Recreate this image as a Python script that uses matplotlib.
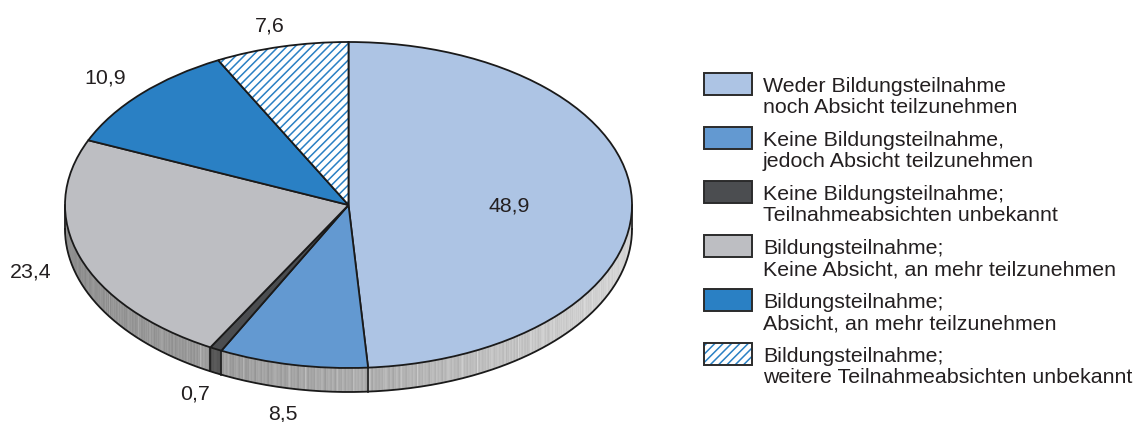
import numpy as np
import matplotlib
matplotlib.use("Agg")
import matplotlib.pyplot as plt
from matplotlib.patches import Wedge, Rectangle
from matplotlib.collections import PolyCollection
from matplotlib.transforms import Affine2D

# Shares in percent, clockwise from twelve o'clock
values = [48.9, 8.5, 0.7, 23.4, 10.9, 7.6]
value_labels = ["48,9", "8,5", "0,7", "23,4", "10,9", "7,6"]
legend_lines = [
    ["Weder Bildungsteilnahme", "noch Absicht teilzunehmen"],
    ["Keine Bildungsteilnahme,", "jedoch Absicht teilzunehmen"],
    ["Keine Bildungsteilnahme;", "Teilnahmeabsichten unbekannt"],
    ["Bildungsteilnahme;", "Keine Absicht, an mehr teilzunehmen"],
    ["Bildungsteilnahme;", "Absicht, an mehr teilzunehmen"],
    ["Bildungsteilnahme;", "weitere Teilnahmeabsichten unbekannt"],
]
face_colors = ["#adc4e4", "#6399d1", "#4b4d50", "#bdbec2", "#2a80c4", "#ffffff"]
hatches = [None, None, None, None, None, "////"]
hatch_color = "#2a80c4"
text_color = "#231f20"

# label anchor points (pixel space), baseline-aligned
label_pos = [(509, 211), (283, 420), (195, 400), (31, 277), (105, 84), (270, 32)]

W, H = 1137, 422
fig = plt.figure(figsize=(W / 100, H / 100), dpi=100)
ax = fig.add_axes([0, 0, 1, 1])
ax.set_xlim(0, W)
ax.set_ylim(H, 0)
ax.axis("off")

plt.rcParams["hatch.linewidth"] = 1.1
plt.rcParams["hatch.color"] = hatch_color
font = "Liberation Sans"
fs = 15.4

# ellipse geometry of the pie top
cx, cy, rx, ry, depth = 348.5, 205.0, 283.5, 163.0, 24.0
to_pie = Affine2D().scale(rx, -ry).translate(cx, cy) + ax.transData

# slice angles (math orientation, starting at 90 deg, running clockwise)
total = sum(values)
bounds = [90.0]
for v in values:
    bounds.append(bounds[-1] - 360.0 * v / total)


def slice_of(angle):
    """Index of the slice that contains a given angle (degrees)."""
    for i in range(len(values)):
        hi, lo = bounds[i], bounds[i + 1]
        a = angle
        while a > hi:
            a -= 360
        while a < lo:
            a += 360
        if lo <= a <= hi:
            return i
    return 0


# side wall of the front half, built from thin vertical strips
n = 720
ts = np.linspace(180, 360, n + 1)
polys, cols = [], []
for k in range(n):
    t0, t1 = np.radians(ts[k]), np.radians(ts[k + 1])
    x0, y0 = cx + rx * np.cos(t0), cy - ry * np.sin(t0)
    x1, y1 = cx + rx * np.cos(t1), cy - ry * np.sin(t1)
    polys.append([(x0, y0), (x1, y1), (x1, y1 + depth), (x0, y0 + depth)])
    mid = 0.5 * (ts[k] + ts[k + 1])
    frac = (x0 - (cx - rx)) / (2 * rx)
    streak = 0.08 * (((k * 7) % 11) / 10.0) + (0.07 if k % 13 == 0 else 0)
    if slice_of(mid) == 2:
        g = 0.27 + 0.5 * streak
    else:
        g = 0.52 + 0.28 * frac ** 1.5 + streak
    g = min(g, 0.86)
    cols.append((g, g, g))
ax.add_collection(PolyCollection(polys, facecolors=cols, edgecolors=cols, linewidths=0.3, zorder=1))

# outline of the wall
tt = np.radians(np.linspace(180, 360, 400))
ax.plot(cx + rx * np.cos(tt), cy - ry * np.sin(tt) + depth, color="#1a1a1a", lw=1.3, zorder=2)
for xs in (cx - rx, cx + rx):
    ax.plot([xs, xs], [cy, cy + depth], color="#1a1a1a", lw=1.2, zorder=2)
for b in bounds:
    a = b % 360
    if 180 < a < 360:
        r = np.radians(a)
        xb, yb = cx + rx * np.cos(r), cy - ry * np.sin(r)
        ax.plot([xb, xb], [yb, yb + depth], color="#1a1a1a", lw=1.2, zorder=2)

# top face
for i, v in enumerate(values):
    th1, th2 = bounds[i + 1], bounds[i]
    if hatches[i]:
        ax.add_patch(Wedge((0, 0), 1, th1, th2, facecolor=face_colors[i], edgecolor=hatch_color,
                           hatch=hatches[i], lw=0, transform=to_pie, zorder=3))
        ax.add_patch(Wedge((0, 0), 1, th1, th2, facecolor="none", edgecolor="#1a1a1a",
                           lw=1.3, transform=to_pie, zorder=4))
    else:
        ax.add_patch(Wedge((0, 0), 1, th1, th2, facecolor=face_colors[i], edgecolor="#1a1a1a",
                           lw=1.3, transform=to_pie, zorder=3))

# value labels
for (x, y), s in zip(label_pos, value_labels):
    ax.text(x, y, s, ha="center", va="baseline", fontsize=fs, color=text_color,
            family=font, zorder=5)

# legend
box_x, box_w, box_h = 704, 48, 22
for i, lines in enumerate(legend_lines):
    top = 73 + 54 * i
    if hatches[i]:
        ax.add_patch(Rectangle((box_x, top), box_w, box_h, facecolor="white", edgecolor=hatch_color,
                               hatch=hatches[i], lw=0, zorder=3))
        ax.add_patch(Rectangle((box_x, top), box_w, box_h, facecolor="none", edgecolor="#2b2b2b",
                               lw=1.4, zorder=4))
    else:
        ax.add_patch(Rectangle((box_x, top), box_w, box_h, facecolor=face_colors[i], edgecolor="#2b2b2b",
                               lw=1.4, zorder=3))
    for j, line in enumerate(lines):
        ax.text(763, top + 19 + 21 * j, line, ha="left", va="baseline", fontsize=fs,
                color=text_color, family=font, zorder=5)

fig.savefig("out.png", dpi=100, facecolor="white")
